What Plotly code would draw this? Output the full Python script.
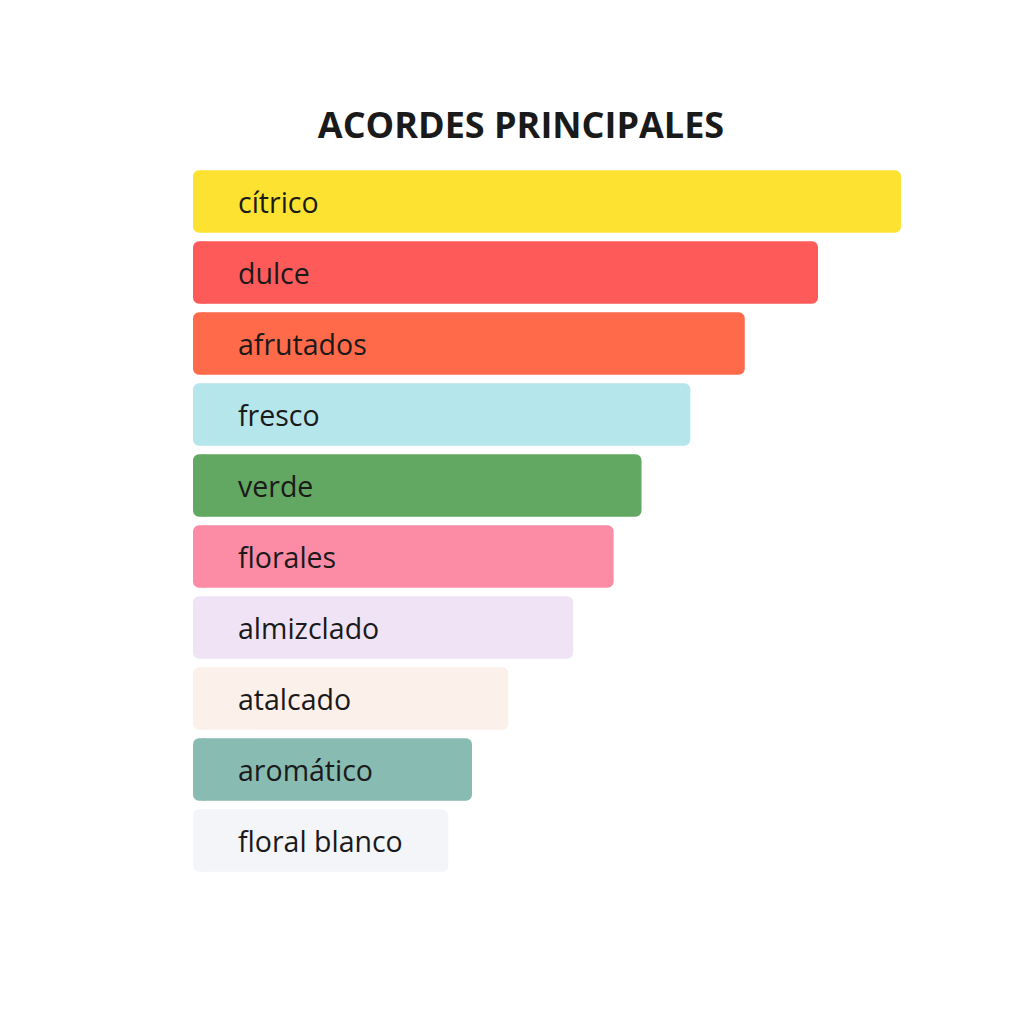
import plotly.graph_objects as go

# main accords, top to bottom
acordes = ["cítrico", "dulce", "afrutados", "fresco", "verde",
           "florales", "almizclado", "atalcado", "aromático", "floral blanco"]
valores = [100, 88.1, 77.6, 69.8, 62.8, 58.8, 53.0, 43.7, 38.5, 35.1]
colores = ["#FDE232", "#FF5A5A", "#FF6B4A", "#B5E6EB", "#62A862",
           "#FC8CA6", "#F0E3F6", "#FBF0EA", "#88BBB1", "#F4F5F9"]

stub = 1.5  # small cap to the left of 0 so the bar start gets rounded corners
seam = 0.3  # half-width of the patch that hides the antialiasing seam at 0

bar_style = dict(
  y=acordes, orientation='h', width=0.88, hoverinfo='skip',
  marker=dict(color=colores, line=dict(width=0)),
)

fig = go.Figure()
fig.add_trace(go.Bar(x=valores, **bar_style))                # main bars
fig.add_trace(go.Bar(x=[-stub]*len(acordes), **bar_style))   # rounded left cap
fig.add_trace(go.Bar(x=[2*seam]*len(acordes), base=-seam,    # seam patch
                     **bar_style))

# labels inside the bars, left aligned
for acorde in acordes:
  fig.add_annotation(
    x=-stub, y=acorde, xref='x', yref='y',
    text=acorde, showarrow=False,
    xanchor='left', xshift=43,
    font=dict(family='Open Sans, sans-serif', size=28.5, color='#1a1a1a'),
  )

fig.update_layout(
  title=dict(
    text="<b>ACORDES PRINCIPALES</b>",
    x=0.501, xanchor='center', y=0.885, yanchor='middle',
    font=dict(family='Open Sans, sans-serif', size=36, color='#1a1a1a'),
  ),
  barmode='overlay',
  barcornerradius=6,
  xaxis=dict(range=[-stub, 100], visible=False, fixedrange=True),
  yaxis=dict(autorange='reversed', visible=False, fixedrange=True),
  plot_bgcolor='#ffffff', paper_bgcolor='#ffffff',
  showlegend=False,
  width=1024, height=1024,
  margin=dict(l=185, r=131, t=158, b=156, pad=0),
)

fig.write_html("out.html")
